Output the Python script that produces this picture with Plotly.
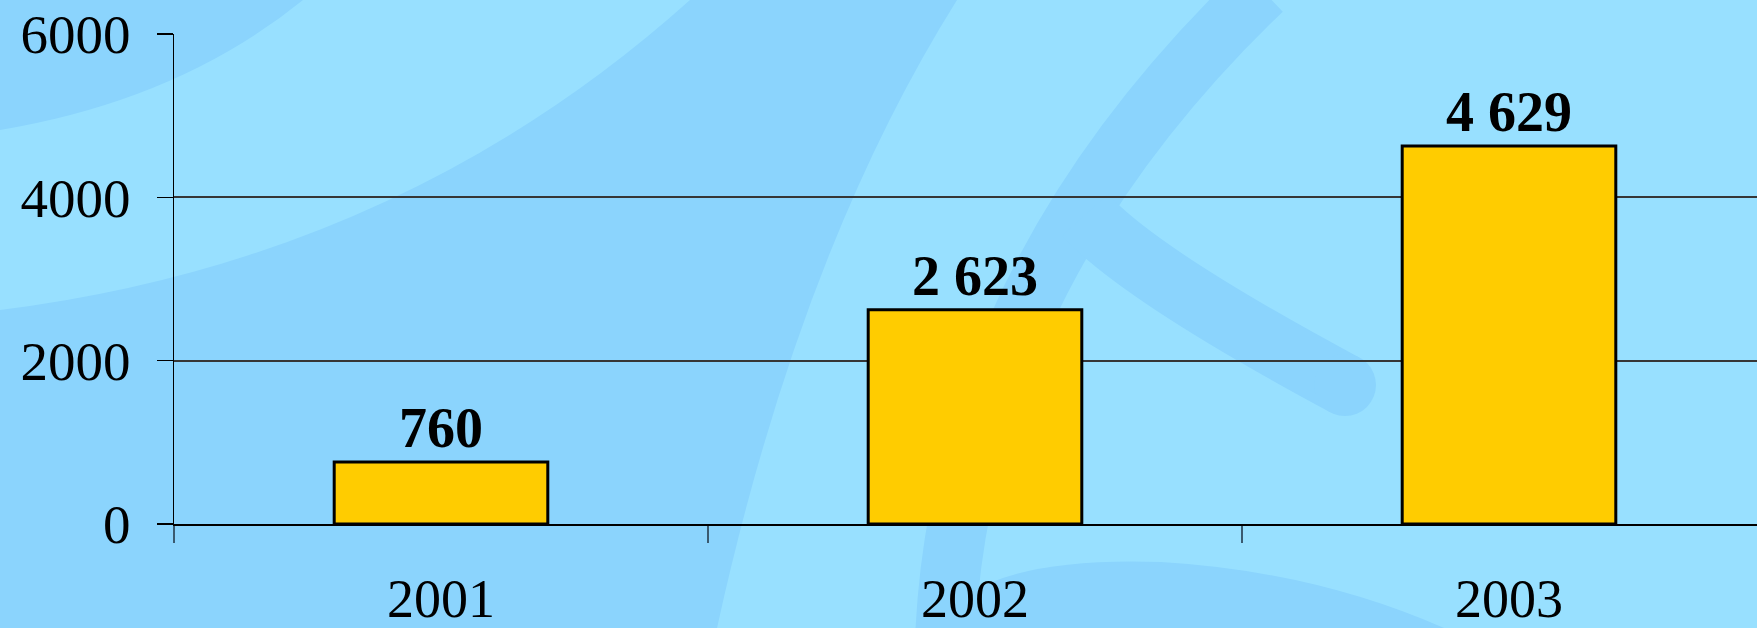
import plotly.graph_objects as go

# ---- data ----
years = ["2001", "2002", "2003"]
values = [760, 2623, 4629]
y_ticks = [0, 2000, 4000, 6000]

# ---- figure geometry (pixels) ----
W, H = 1757, 628
ML, MT, MB, MR = 174, 34, 104, 0
PW, PH = W - ML - MR, H - MT - MB
CAT_PX = 534  # pixel width of one category slot

DARK_BG = "rgb(139,212,253)"
LIGHT_BG = "rgb(152,224,255)"


def px(x):
    return (x - ML) / PW


def py(y):
    return (H - MB - y) / PH


def path(cmds):
    out = []
    for c in cmds:
        if isinstance(c, str):
            out.append(c)
        else:
            out.append(f"{px(c[0]):.5f},{py(c[1]):.5f}")
    return " ".join(out)


shapes = []
# light crescent, top left
shapes.append(dict(type="path", xref="paper", yref="paper", layer="below",
                   path=path(["M", (0, 130), "Q", (180, 100), (303, 0), "L", (690, 0),
                              "Q", (400, 260), (0, 310), "Z"]),
                   fillcolor=LIGHT_BG, line=dict(width=0)))
# light large region, right
shapes.append(dict(type="path", xref="paper", yref="paper", layer="below",
                   path=path(["M", (717, 628), "Q", (800, 250), (957, 0), "L", (1757, 0),
                              "L", (1757, 628), "Z"]),
                   fillcolor=LIGHT_BG, line=dict(width=0)))
# darker stroke from top down to bottom
shapes.append(dict(type="path", xref="paper", yref="paper", layer="below",
                   path=path(["M", (1262, -10), "Q", (960, 280), (945, 640)]),
                   line=dict(color=DARK_BG, width=60)))
# darker hook branch
shapes.append(dict(type="path", xref="paper", yref="paper", layer="below",
                   path=path(["M", (1085, 215), "Q", (1140, 275), (1345, 385)]),
                   line=dict(color=DARK_BG, width=62)))
shapes.append(dict(type="circle", xref="paper", yref="paper", layer="below",
                   x0=px(1314), x1=px(1376), y0=py(416), y1=py(354),
                   fillcolor=DARK_BG, line=dict(width=0)))
# darker region at bottom
shapes.append(dict(type="path", xref="paper", yref="paper", layer="below",
                   path=path(["M", (930, 640), "Q", (960, 555), (1161, 562),
                              "Q", (1330, 572), (1470, 640), "Z"]),
                   fillcolor=DARK_BG, line=dict(width=0)))

fig = go.Figure()
fig.add_trace(go.Bar(
    x=years, y=values,
    width=0.4,
    marker=dict(color="#FFCC00", line=dict(color="black", width=3)),
    texttemplate="%{y:,}",
    textposition="outside",
    textfont=dict(family="Liberation Serif", size=56, color="black", weight="bold"),
    cliponaxis=False,
    constraintext="none",
    hoverinfo="skip",
))

fig.update_layout(
    width=W, height=H,
    margin=dict(l=ML, r=MR, t=MT, b=MB, pad=0),
    paper_bgcolor=DARK_BG,
    plot_bgcolor="rgba(0,0,0,0)",
    separators=". ",
    showlegend=False,
    shapes=shapes,
    font=dict(family="Liberation Serif", color="black"),
)

fig.update_xaxes(
    type="category",
    range=[-0.5, -0.5 + PW / CAT_PX],
    tickson="boundaries",
    ticks="outside", ticklen=17, tickwidth=1.5, tickcolor="#3a5a70",
    showline=True, linecolor="black", linewidth=2,
    showgrid=False, zeroline=False,
    tickfont=dict(family="Liberation Serif", size=54, color="black"),
    ticklabelstandoff=26,
)

fig.update_yaxes(
    range=[0, 6000],
    tickvals=y_ticks,
    ticktext=[str(v) for v in y_ticks],
    ticks="outside", ticklen=16, tickwidth=1.5, tickcolor="black",
    showline=True, linecolor="black", linewidth=1.5,
    showgrid=True, gridcolor="#363636", gridwidth=2,
    zeroline=False,
    tickfont=dict(family="Liberation Serif", size=55, color="black"),
    ticklabelstandoff=15,
)

fig.write_html(
    "out.html",
    config={"displayModeBar": False, "staticPlot": True},
    post_script="document.body.style.margin='0';document.body.style.overflow='hidden';",
)
